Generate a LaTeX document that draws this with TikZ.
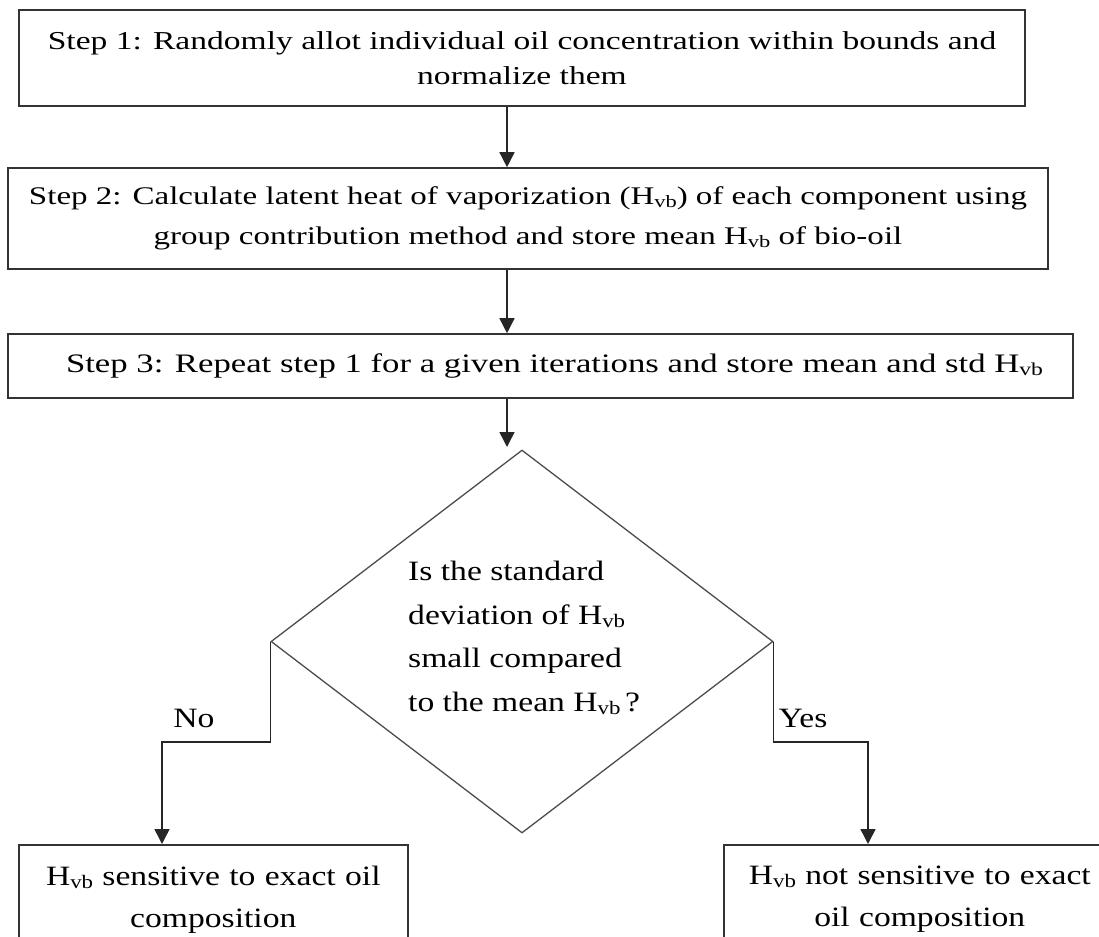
\documentclass[tikz,border=0pt]{standalone}
\usepackage{fontspec}
\setmainfont{Liberation Serif}
\newfontfamily\stepfont[FakeStretch=1.3]{Liberation Serif}
\newfontfamily\wideserif[FakeStretch=1.2]{Liberation Serif}
\usetikzlibrary{shapes.geometric,arrows.meta}
\newcommand{\Hvb}{H\raisebox{-0.22ex}{\fontsize{0.68em}{1em}\selectfont vb}}
\begin{document}
\begin{tikzpicture}[x=1pt,y=-1pt,
  stepbox/.style={draw=black!80,line width=1.6pt,inner sep=0pt,align=center,
    font=\stepfont\fontsize{26}{35}\selectfont},
  resultbox/.style={draw=black!80,line width=1.6pt,inner xsep=0pt,inner ysep=21pt,align=center,
    font=\wideserif\fontsize{28}{42}\selectfont},
  flow/.style={draw=black!85,line width=1.5pt,-{Triangle[length=15pt,width=15pt]}},
  lbl/.style={inner sep=0pt,font=\wideserif\fontsize{28}{32}\selectfont}]
\clip (0,0) rectangle (1099,936);
\useasboundingbox (0,0) rectangle (1099,936);

% process steps
\node[stepbox,minimum width=1006pt,minimum height=96pt,
  font=\stepfont\fontsize{25.8}{35}\selectfont] (s1) at (522,58)
  {Step 1: Randomly allot individual oil concentration within bounds and\\normalize them};
\node[stepbox,minimum width=1040pt,minimum height=101pt,
  font=\stepfont\fontsize{25.4}{40}\selectfont] (s2) at (528,218.5)
  {Step 2: Calculate latent heat of vaporization (\Hvb) of each component using\\group contribution method and store mean \Hvb\ of bio-oil};
\node[stepbox,minimum width=1065pt,minimum height=64pt,
  font=\stepfont\fontsize{26.7}{35}\selectfont] (s3) at (540.5,366)
  {\hspace*{28pt}Step 3: Repeat step 1 for a given iterations and store mean and std \Hvb};

% decision
\node[draw=black!70,line width=1.3pt,shape=diamond,minimum width=502pt,minimum height=383pt,
  inner sep=0pt] (dec) at (522,641.5) {};
\node[anchor=west,align=left,inner sep=0pt,font=\wideserif\fontsize{28}{43.5}\selectfont] (q) at (408,638)
  {Is the standard\\deviation of \Hvb\\small compared\\to the mean \Hvb\,?};

% outcomes (extend past the lower edge)
\node[resultbox,text width=389pt,anchor=north west] (no) at (18,844)
  {\Hvb\ sensitive to exact oil\\composition};
\node[resultbox,text width=392pt,anchor=north west] (yes) at (723,844)
  {\Hvb\ not sensitive to exact\\oil composition};

% connectors
\coordinate (sp) at (507,447);
\coordinate (nb) at (162,742);
\coordinate (yb) at (868,742);
\draw[flow] (s1.south -| sp) -- (s2.north -| sp);
\draw[flow] (s2.south -| sp) -- (s3.north -| sp);
\draw[flow] (s3.south -| sp) -- (sp);
\draw[flow] (dec.west) |- (nb) -- (nb |- no.north);
\draw[flow] (dec.east) |- (yb) -- (yb |- yes.north);

\node[lbl] (nolbl) at (194,718) {No};
\node[lbl] (yeslbl) at (803,718) {Yes};
\end{tikzpicture}
\end{document}
